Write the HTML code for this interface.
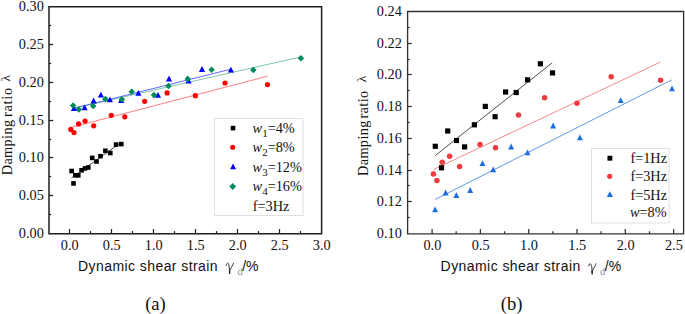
<!DOCTYPE html>
<html><head><meta charset="utf-8"><style>
html,body{margin:0;padding:0;background:#fff;}
body{width:685px;height:314px;overflow:hidden;}
svg{display:block;}
.tk{font-family:"Liberation Serif", serif;font-size:14.3px;fill:#111;}
.lg{font-family:"Liberation Serif", serif;font-size:14.3px;fill:#111;}
.yt{font-family:"Liberation Serif", serif;font-size:14.3px;fill:#111;letter-spacing:0.36px;}
.lam{font-family:"Liberation Serif", serif;font-size:13.5px;fill:#222;}
.xt{font-family:"Liberation Sans", sans-serif;font-size:14px;fill:#111;letter-spacing:0.43px;}
.xt2{font-family:"Liberation Sans", sans-serif;font-size:14px;fill:#111;}
.gm{font-family:"Liberation Serif", serif;font-size:14.3px;fill:#333;}
.sd{font-family:"Liberation Serif", serif;font-size:10.5px;fill:#8c8fa8;}
.cap{font-family:"Liberation Serif", serif;font-size:18.6px;fill:#111;}
</style></head><body>
<svg width="685" height="314" viewBox="0 0 685 314">
<rect width="685" height="314" fill="#fff"/>
<line x1="69.5" y1="233.7" x2="69.5" y2="229.1" stroke="#1e1e1e" stroke-width="1.25" stroke-opacity="1"/>
<line x1="90.5" y1="233.7" x2="90.5" y2="231.1" stroke="#1e1e1e" stroke-width="1.25" stroke-opacity="1"/>
<line x1="111.5" y1="233.7" x2="111.5" y2="229.1" stroke="#1e1e1e" stroke-width="1.25" stroke-opacity="1"/>
<line x1="132.5" y1="233.7" x2="132.5" y2="231.1" stroke="#1e1e1e" stroke-width="1.25" stroke-opacity="1"/>
<line x1="153.5" y1="233.7" x2="153.5" y2="229.1" stroke="#1e1e1e" stroke-width="1.25" stroke-opacity="1"/>
<line x1="174.5" y1="233.7" x2="174.5" y2="231.1" stroke="#1e1e1e" stroke-width="1.25" stroke-opacity="1"/>
<line x1="195.5" y1="233.7" x2="195.5" y2="229.1" stroke="#1e1e1e" stroke-width="1.25" stroke-opacity="1"/>
<line x1="216.5" y1="233.7" x2="216.5" y2="231.1" stroke="#1e1e1e" stroke-width="1.25" stroke-opacity="1"/>
<line x1="237.5" y1="233.7" x2="237.5" y2="229.1" stroke="#1e1e1e" stroke-width="1.25" stroke-opacity="1"/>
<line x1="258.5" y1="233.7" x2="258.5" y2="231.1" stroke="#1e1e1e" stroke-width="1.25" stroke-opacity="1"/>
<line x1="279.5" y1="233.7" x2="279.5" y2="229.1" stroke="#1e1e1e" stroke-width="1.25" stroke-opacity="1"/>
<line x1="300.5" y1="233.7" x2="300.5" y2="231.1" stroke="#1e1e1e" stroke-width="1.25" stroke-opacity="1"/>
<line x1="49.0" y1="214.5" x2="51.2" y2="214.5" stroke="#1e1e1e" stroke-width="1.25" stroke-opacity="1"/>
<line x1="49.0" y1="195.5" x2="53.2" y2="195.5" stroke="#1e1e1e" stroke-width="1.25" stroke-opacity="1"/>
<line x1="49.0" y1="176.5" x2="51.2" y2="176.5" stroke="#1e1e1e" stroke-width="1.25" stroke-opacity="1"/>
<line x1="49.0" y1="157.5" x2="53.2" y2="157.5" stroke="#1e1e1e" stroke-width="1.25" stroke-opacity="1"/>
<line x1="49.0" y1="139.5" x2="51.2" y2="139.5" stroke="#1e1e1e" stroke-width="1.25" stroke-opacity="1"/>
<line x1="49.0" y1="120.5" x2="53.2" y2="120.5" stroke="#1e1e1e" stroke-width="1.25" stroke-opacity="1"/>
<line x1="49.0" y1="101.5" x2="51.2" y2="101.5" stroke="#1e1e1e" stroke-width="1.25" stroke-opacity="1"/>
<line x1="49.0" y1="82.5" x2="53.2" y2="82.5" stroke="#1e1e1e" stroke-width="1.25" stroke-opacity="1"/>
<line x1="49.0" y1="63.5" x2="51.2" y2="63.5" stroke="#1e1e1e" stroke-width="1.25" stroke-opacity="1"/>
<line x1="49.0" y1="44.5" x2="53.2" y2="44.5" stroke="#1e1e1e" stroke-width="1.25" stroke-opacity="1"/>
<line x1="49.0" y1="25.5" x2="51.2" y2="25.5" stroke="#1e1e1e" stroke-width="1.25" stroke-opacity="1"/>
<path d="M49.0 6.7 H321.6 V233.7 H49.0 Z" fill="none" stroke="#1e1e1e" stroke-width="1.5"/>
<text x="43.8" y="237.90" text-anchor="end" class="tk">0.00</text>
<text x="43.8" y="200.10" text-anchor="end" class="tk">0.05</text>
<text x="43.8" y="162.30" text-anchor="end" class="tk">0.10</text>
<text x="43.8" y="124.50" text-anchor="end" class="tk">0.15</text>
<text x="43.8" y="86.70" text-anchor="end" class="tk">0.20</text>
<text x="43.8" y="48.90" text-anchor="end" class="tk">0.25</text>
<text x="43.8" y="11.10" text-anchor="end" class="tk">0.30</text>
<text x="69.75" y="249.8" text-anchor="middle" class="tk">0.0</text>
<text x="111.75" y="249.8" text-anchor="middle" class="tk">0.5</text>
<text x="153.75" y="249.8" text-anchor="middle" class="tk">1.0</text>
<text x="195.75" y="249.8" text-anchor="middle" class="tk">1.5</text>
<text x="237.75" y="249.8" text-anchor="middle" class="tk">2.0</text>
<text x="279.75" y="249.8" text-anchor="middle" class="tk">2.5</text>
<text x="321.75" y="249.8" text-anchor="middle" class="tk">3.0</text>
<line x1="71.6" y1="177.8" x2="121.3" y2="142.3" stroke="#000" stroke-width="1" stroke-opacity="0.7"/>
<line x1="71.9" y1="127.2" x2="267.5" y2="76.2" stroke="#ff0000" stroke-width="1" stroke-opacity="0.5"/>
<line x1="74.0" y1="108.2" x2="230.5" y2="69.3" stroke="#0000ff" stroke-width="1" stroke-opacity="0.6"/>
<line x1="73.0" y1="108.4" x2="300.8" y2="56.9" stroke="#008a5a" stroke-width="1" stroke-opacity="0.5"/>
<rect x="69.30" y="168.70" width="4.6" height="4.6" fill="#000"/>
<rect x="71.20" y="181.10" width="4.6" height="4.6" fill="#000"/>
<rect x="73.10" y="173.00" width="4.6" height="4.6" fill="#000"/>
<rect x="76.00" y="173.00" width="4.6" height="4.6" fill="#000"/>
<rect x="79.30" y="168.00" width="4.6" height="4.6" fill="#000"/>
<rect x="82.70" y="166.10" width="4.6" height="4.6" fill="#000"/>
<rect x="86.00" y="165.20" width="4.6" height="4.6" fill="#000"/>
<rect x="89.90" y="155.60" width="4.6" height="4.6" fill="#000"/>
<rect x="94.20" y="159.20" width="4.6" height="4.6" fill="#000"/>
<rect x="98.20" y="153.90" width="4.6" height="4.6" fill="#000"/>
<rect x="103.10" y="148.50" width="4.6" height="4.6" fill="#000"/>
<rect x="108.00" y="150.70" width="4.6" height="4.6" fill="#000"/>
<rect x="113.80" y="142.30" width="4.6" height="4.6" fill="#000"/>
<rect x="119.00" y="141.80" width="4.6" height="4.6" fill="#000"/>
<circle cx="70.8" cy="129.4" r="2.6" fill="#ff0000"/>
<circle cx="74" cy="132.6" r="2.6" fill="#ff0000"/>
<circle cx="78.6" cy="123.9" r="2.6" fill="#ff0000"/>
<circle cx="85" cy="121" r="2.6" fill="#ff0000"/>
<circle cx="93.7" cy="125.8" r="2.6" fill="#ff0000"/>
<circle cx="111.3" cy="115.3" r="2.6" fill="#ff0000"/>
<circle cx="124.8" cy="116.8" r="2.6" fill="#ff0000"/>
<circle cx="144.6" cy="101.3" r="2.6" fill="#ff0000"/>
<circle cx="167.1" cy="92.9" r="2.6" fill="#ff0000"/>
<circle cx="195.4" cy="95.7" r="2.6" fill="#ff0000"/>
<circle cx="225" cy="83" r="2.6" fill="#ff0000"/>
<circle cx="267.5" cy="84.6" r="2.6" fill="#ff0000"/>
<path d="M73.90 105.20 L77.00 111.00 L70.80 111.00 Z" fill="#0000ff"/>
<path d="M84.60 104.50 L87.70 110.30 L81.50 110.30 Z" fill="#0000ff"/>
<path d="M93.60 97.60 L96.70 103.40 L90.50 103.40 Z" fill="#0000ff"/>
<path d="M100.90 91.80 L104.00 97.60 L97.80 97.60 Z" fill="#0000ff"/>
<path d="M109.90 96.40 L113.00 102.20 L106.80 102.20 Z" fill="#0000ff"/>
<path d="M121.20 97.10 L124.30 102.90 L118.10 102.90 Z" fill="#0000ff"/>
<path d="M138.40 90.00 L141.50 95.80 L135.30 95.80 Z" fill="#0000ff"/>
<path d="M158.00 91.90 L161.10 97.70 L154.90 97.70 Z" fill="#0000ff"/>
<path d="M169.00 75.60 L172.10 81.40 L165.90 81.40 Z" fill="#0000ff"/>
<path d="M188.60 77.60 L191.70 83.40 L185.50 83.40 Z" fill="#0000ff"/>
<path d="M202.00 66.10 L205.10 71.90 L198.90 71.90 Z" fill="#0000ff"/>
<path d="M230.90 66.80 L234.00 72.60 L227.80 72.60 Z" fill="#0000ff"/>
<path d="M73.10 102.20 L76.30 105.50 L73.10 108.80 L69.90 105.50 Z" fill="#008a5a"/>
<path d="M78.80 106.10 L82.00 109.40 L78.80 112.70 L75.60 109.40 Z" fill="#008a5a"/>
<path d="M93.20 102.70 L96.40 106.00 L93.20 109.30 L90.00 106.00 Z" fill="#008a5a"/>
<path d="M105.40 95.80 L108.60 99.10 L105.40 102.40 L102.20 99.10 Z" fill="#008a5a"/>
<path d="M121.90 96.10 L125.10 99.40 L121.90 102.70 L118.70 99.40 Z" fill="#008a5a"/>
<path d="M131.70 88.40 L134.90 91.70 L131.70 95.00 L128.50 91.70 Z" fill="#008a5a"/>
<path d="M154.00 91.80 L157.20 95.10 L154.00 98.40 L150.80 95.10 Z" fill="#008a5a"/>
<path d="M168.50 82.70 L171.70 86.00 L168.50 89.30 L165.30 86.00 Z" fill="#008a5a"/>
<path d="M187.70 75.60 L190.90 78.90 L187.70 82.20 L184.50 78.90 Z" fill="#008a5a"/>
<path d="M211.60 66.50 L214.80 69.80 L211.60 73.10 L208.40 69.80 Z" fill="#008a5a"/>
<path d="M253.30 66.70 L256.50 70.00 L253.30 73.30 L250.10 70.00 Z" fill="#008a5a"/>
<path d="M300.90 55.00 L304.10 58.30 L300.90 61.60 L297.70 58.30 Z" fill="#008a5a"/>
<rect x="214.5" y="118.5" width="88.5" height="97" fill="#fff" stroke="#e0e0e0" stroke-width="1"/>
<rect x="230.70" y="125.80" width="4.6" height="4.6" fill="#000"/>
<circle cx="232.7" cy="147.2" r="2.55" fill="#ff0000"/>
<path d="M233.10 163.60 L236.10 169.20 L230.10 169.20 Z" fill="#0000ff"/>
<path d="M232.70 183.10 L236.10 186.50 L232.70 189.90 L229.30 186.50 Z" fill="#008a5a"/>
<text x="252.6" y="132.8" class="lg"><tspan font-style="italic">w</tspan><tspan dy="4" font-size="11">1</tspan><tspan dy="-4">=4%</tspan></text>
<text x="252.6" y="152.4" class="lg"><tspan font-style="italic">w</tspan><tspan dy="4" font-size="11">2</tspan><tspan dy="-4">=8%</tspan></text>
<text x="252.6" y="172.0" class="lg"><tspan font-style="italic">w</tspan><tspan dy="4" font-size="11">3</tspan><tspan dy="-4">=12%</tspan></text>
<text x="252.6" y="191.4" class="lg"><tspan font-style="italic">w</tspan><tspan dy="4" font-size="11">4</tspan><tspan dy="-4">=16%</tspan></text>
<text x="252.8" y="210.6" class="lg">f=3Hz</text>
<text x="78.00" y="270.8" class="xt">Dynamic shear strain</text>
<g transform="translate(0.00,0.00)" fill="none" stroke="#2a2a2a" stroke-linecap="round"><path d="M226.2 265.4 C226.5 263.8 227.2 263.0 227.9 263.3 C228.9 263.8 229.4 266.5 229.6 273.0" stroke-width="1.0"/><path d="M233.6 263.2 L229.5 271.0" stroke-width="0.9"/><path d="M229.55 270.5 L229.6 273.4" stroke-width="1.4"/></g>
<text x="237.40" y="274.90" class="sd">d</text>
<text x="242.20" y="270.8" class="xt2">/%</text>
<text transform="translate(12.00,175.30) rotate(-90)" class="yt">Damping</text>
<text transform="translate(12.00,117.00) rotate(-90)" class="yt" style="letter-spacing:0.75px">ratio</text>
<text transform="translate(10.40,81.40) rotate(-90)" class="lam">&#955;</text>
<text x="155.5" y="310.4" text-anchor="middle" class="cap">(a)</text>
<line x1="432.1" y1="233.9" x2="432.1" y2="229.1" stroke="#333" stroke-width="1.25" stroke-opacity="1"/>
<line x1="456.2" y1="233.9" x2="456.2" y2="231.3" stroke="#333" stroke-width="1.25" stroke-opacity="1"/>
<line x1="480.4" y1="233.9" x2="480.4" y2="229.1" stroke="#333" stroke-width="1.25" stroke-opacity="1"/>
<line x1="504.6" y1="233.9" x2="504.6" y2="231.3" stroke="#333" stroke-width="1.25" stroke-opacity="1"/>
<line x1="528.7" y1="233.9" x2="528.7" y2="229.1" stroke="#333" stroke-width="1.25" stroke-opacity="1"/>
<line x1="552.9" y1="233.9" x2="552.9" y2="231.3" stroke="#333" stroke-width="1.25" stroke-opacity="1"/>
<line x1="577.0" y1="233.9" x2="577.0" y2="229.1" stroke="#333" stroke-width="1.25" stroke-opacity="1"/>
<line x1="601.1" y1="233.9" x2="601.1" y2="231.3" stroke="#333" stroke-width="1.25" stroke-opacity="1"/>
<line x1="625.3" y1="233.9" x2="625.3" y2="229.1" stroke="#333" stroke-width="1.25" stroke-opacity="1"/>
<line x1="649.5" y1="233.9" x2="649.5" y2="231.3" stroke="#333" stroke-width="1.25" stroke-opacity="1"/>
<line x1="673.6" y1="233.9" x2="673.6" y2="229.1" stroke="#333" stroke-width="1.25" stroke-opacity="1"/>
<line x1="407.6" y1="217.5" x2="409.8" y2="217.5" stroke="#333" stroke-width="1.25" stroke-opacity="1"/>
<line x1="407.6" y1="201.5" x2="411.8" y2="201.5" stroke="#333" stroke-width="1.25" stroke-opacity="1"/>
<line x1="407.6" y1="185.5" x2="409.8" y2="185.5" stroke="#333" stroke-width="1.25" stroke-opacity="1"/>
<line x1="407.6" y1="170.5" x2="411.8" y2="170.5" stroke="#333" stroke-width="1.25" stroke-opacity="1"/>
<line x1="407.6" y1="154.5" x2="409.8" y2="154.5" stroke="#333" stroke-width="1.25" stroke-opacity="1"/>
<line x1="407.6" y1="138.5" x2="411.8" y2="138.5" stroke="#333" stroke-width="1.25" stroke-opacity="1"/>
<line x1="407.6" y1="122.5" x2="409.8" y2="122.5" stroke="#333" stroke-width="1.25" stroke-opacity="1"/>
<line x1="407.6" y1="106.5" x2="411.8" y2="106.5" stroke="#333" stroke-width="1.25" stroke-opacity="1"/>
<line x1="407.6" y1="90.5" x2="409.8" y2="90.5" stroke="#333" stroke-width="1.25" stroke-opacity="1"/>
<line x1="407.6" y1="74.5" x2="411.8" y2="74.5" stroke="#333" stroke-width="1.25" stroke-opacity="1"/>
<line x1="407.6" y1="59.5" x2="409.8" y2="59.5" stroke="#333" stroke-width="1.25" stroke-opacity="1"/>
<line x1="407.6" y1="43.5" x2="411.8" y2="43.5" stroke="#333" stroke-width="1.25" stroke-opacity="1"/>
<line x1="407.6" y1="27.5" x2="409.8" y2="27.5" stroke="#333" stroke-width="1.25" stroke-opacity="1"/>
<path d="M407.6 11.5 H683.6 V233.9 H407.6 Z" fill="none" stroke="#333" stroke-width="1.35"/>
<text x="401.8" y="238.20" text-anchor="end" class="tk">0.10</text>
<text x="401.8" y="206.46" text-anchor="end" class="tk">0.12</text>
<text x="401.8" y="174.71" text-anchor="end" class="tk">0.14</text>
<text x="401.8" y="142.97" text-anchor="end" class="tk">0.16</text>
<text x="401.8" y="111.23" text-anchor="end" class="tk">0.18</text>
<text x="401.8" y="79.49" text-anchor="end" class="tk">0.20</text>
<text x="401.8" y="47.74" text-anchor="end" class="tk">0.22</text>
<text x="401.8" y="16.00" text-anchor="end" class="tk">0.24</text>
<text x="432.40" y="250.0" text-anchor="middle" class="tk">0.0</text>
<text x="480.70" y="250.0" text-anchor="middle" class="tk">0.5</text>
<text x="529.00" y="250.0" text-anchor="middle" class="tk">1.0</text>
<text x="577.30" y="250.0" text-anchor="middle" class="tk">1.5</text>
<text x="625.60" y="250.0" text-anchor="middle" class="tk">2.0</text>
<text x="673.90" y="250.0" text-anchor="middle" class="tk">2.5</text>
<line x1="435.3" y1="155.5" x2="552.2" y2="62.8" stroke="#000" stroke-width="1" stroke-opacity="0.7"/>
<line x1="433.4" y1="169.6" x2="660.1" y2="62.2" stroke="#ee3b3f" stroke-width="1" stroke-opacity="0.6"/>
<line x1="435.1" y1="199.5" x2="671.6" y2="79.9" stroke="#1e6fdc" stroke-width="1" stroke-opacity="0.7"/>
<rect x="432.70" y="143.70" width="5.2" height="5.2" fill="#000"/>
<rect x="438.90" y="165.20" width="5.2" height="5.2" fill="#000"/>
<rect x="445.10" y="128.40" width="5.2" height="5.2" fill="#000"/>
<rect x="453.90" y="137.90" width="5.2" height="5.2" fill="#000"/>
<rect x="462.00" y="144.30" width="5.2" height="5.2" fill="#000"/>
<rect x="471.80" y="122.20" width="5.2" height="5.2" fill="#000"/>
<rect x="482.70" y="103.80" width="5.2" height="5.2" fill="#000"/>
<rect x="492.50" y="114.10" width="5.2" height="5.2" fill="#000"/>
<rect x="503.00" y="89.40" width="5.2" height="5.2" fill="#000"/>
<rect x="513.60" y="89.90" width="5.2" height="5.2" fill="#000"/>
<rect x="525.00" y="77.20" width="5.2" height="5.2" fill="#000"/>
<rect x="537.80" y="61.20" width="5.2" height="5.2" fill="#000"/>
<rect x="549.90" y="70.30" width="5.2" height="5.2" fill="#000"/>
<circle cx="433.4" cy="174.1" r="2.75" fill="#ee3b3f"/>
<circle cx="436.9" cy="180.4" r="2.75" fill="#ee3b3f"/>
<circle cx="442.2" cy="162.3" r="2.75" fill="#ee3b3f"/>
<circle cx="449.6" cy="156.2" r="2.75" fill="#ee3b3f"/>
<circle cx="459.6" cy="166.5" r="2.75" fill="#ee3b3f"/>
<circle cx="480" cy="144.4" r="2.75" fill="#ee3b3f"/>
<circle cx="495.5" cy="147.7" r="2.75" fill="#ee3b3f"/>
<circle cx="518.5" cy="115" r="2.75" fill="#ee3b3f"/>
<circle cx="544.6" cy="97.7" r="2.75" fill="#ee3b3f"/>
<circle cx="577" cy="103.2" r="2.75" fill="#ee3b3f"/>
<circle cx="611.2" cy="76.7" r="2.75" fill="#ee3b3f"/>
<circle cx="660.6" cy="80.2" r="2.75" fill="#ee3b3f"/>
<path d="M435.10 206.50 L438.10 212.30 L432.10 212.30 Z" fill="#1e6fdc"/>
<path d="M445.60 189.60 L448.60 195.40 L442.60 195.40 Z" fill="#1e6fdc"/>
<path d="M456.30 192.10 L459.30 197.90 L453.30 197.90 Z" fill="#1e6fdc"/>
<path d="M470.20 187.10 L473.20 192.90 L467.20 192.90 Z" fill="#1e6fdc"/>
<path d="M482.50 160.20 L485.50 166.00 L479.50 166.00 Z" fill="#1e6fdc"/>
<path d="M493.20 166.40 L496.20 172.20 L490.20 172.20 Z" fill="#1e6fdc"/>
<path d="M511.10 143.60 L514.10 149.40 L508.10 149.40 Z" fill="#1e6fdc"/>
<path d="M527.50 149.50 L530.50 155.30 L524.50 155.30 Z" fill="#1e6fdc"/>
<path d="M553.10 122.60 L556.10 128.40 L550.10 128.40 Z" fill="#1e6fdc"/>
<path d="M579.90 134.50 L582.90 140.30 L576.90 140.30 Z" fill="#1e6fdc"/>
<path d="M620.70 97.20 L623.70 103.00 L617.70 103.00 Z" fill="#1e6fdc"/>
<path d="M672.00 85.50 L675.00 91.30 L669.00 91.30 Z" fill="#1e6fdc"/>
<rect x="591.5" y="148.5" width="77.5" height="74.5" fill="#fff" stroke="#e0e0e0" stroke-width="1"/>
<rect x="607.45" y="155.75" width="4.9" height="4.9" fill="#000"/>
<circle cx="609.7" cy="176.3" r="2.6" fill="#ee3b3f"/>
<path d="M609.90 191.20 L613.00 197.00 L606.80 197.00 Z" fill="#1e6fdc"/>
<text x="630.4" y="162.9" class="lg">f=1Hz</text>
<text x="630.4" y="181.0" class="lg">f=3Hz</text>
<text x="630.4" y="199.6" class="lg">f=5Hz</text>
<text x="630.0" y="217.3" class="lg"><tspan font-style="italic">w</tspan>=8%</text>
<text x="440.60" y="271.3" class="xt">Dynamic shear strain</text>
<g transform="translate(362.60,0.50)" fill="none" stroke="#2a2a2a" stroke-linecap="round"><path d="M226.2 265.4 C226.5 263.8 227.2 263.0 227.9 263.3 C228.9 263.8 229.4 266.5 229.6 273.0" stroke-width="1.0"/><path d="M233.6 263.2 L229.5 271.0" stroke-width="0.9"/><path d="M229.55 270.5 L229.6 273.4" stroke-width="1.4"/></g>
<text x="600.00" y="275.40" class="sd">d</text>
<text x="604.80" y="271.3" class="xt2">/%</text>
<text transform="translate(367.50,176.00) rotate(-90)" class="yt">Damping</text>
<text transform="translate(367.50,118.50) rotate(-90)" class="yt" style="letter-spacing:0.36px">ratio</text>
<text transform="translate(365.90,82.30) rotate(-90)" class="lam">&#955;</text>
<text x="511.6" y="310.4" text-anchor="middle" class="cap">(b)</text>
</svg>
</body></html>
